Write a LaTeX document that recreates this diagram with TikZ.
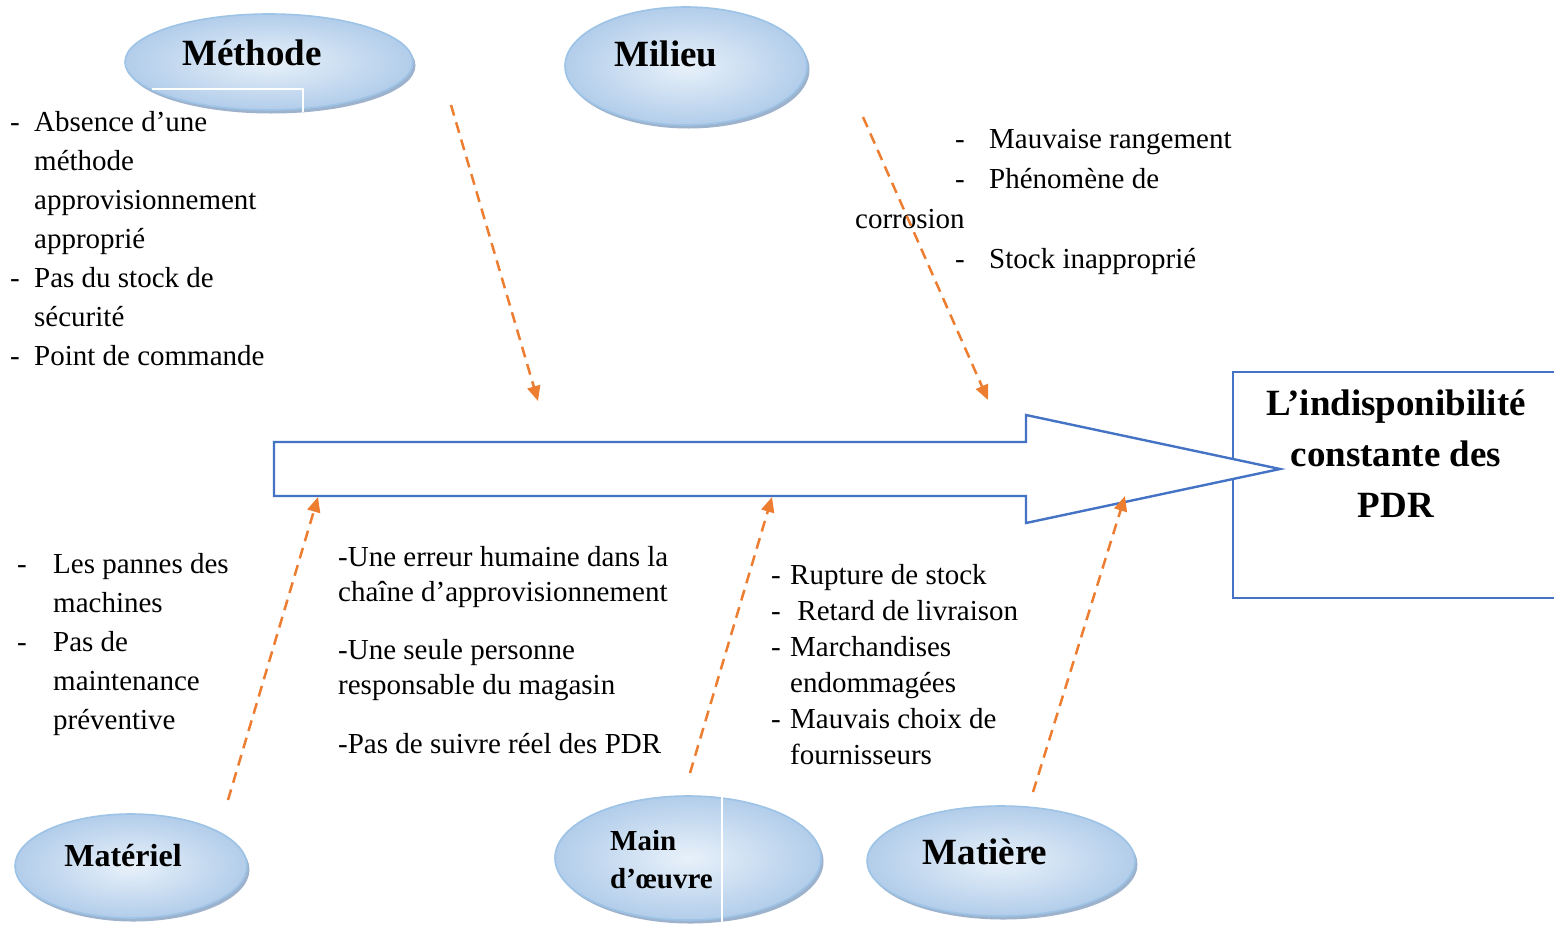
\documentclass[tikz,border=0pt]{standalone}
\usepackage{fontspec}
\setmainfont{Liberation Serif}
\usetikzlibrary{arrows.meta,shapes.geometric,shadows}

\definecolor{spine}{HTML}{4472C4}
\definecolor{cause}{HTML}{ED7D31}
\definecolor{ellrim}{HTML}{9DC3E6}
\definecolor{ellin}{HTML}{E8F1FA}
\definecolor{ellout}{HTML}{B2CDEA}
\definecolor{ellshadow}{HTML}{8CA5C4}

\tikzset{
  cat/.style={ellipse, inner sep=0pt, draw=ellrim, line width=1.6pt,
    inner color=ellin, outer color=ellout,
    drop shadow={shadow xshift=2.5pt, shadow yshift=-3.5pt, fill=ellshadow, opacity=0.85}},
  cattxt/.style={font=\fontsize{37}{44}\selectfont\bfseries, inner sep=0pt, anchor=base},
  body/.style={inner sep=0pt, anchor=base west},
  causearrow/.style={draw=cause, line width=2.5pt, dash pattern=on 11pt off 7pt,
    -{Triangle[length=15pt,width=13pt]}},
  glitch/.style={draw=white, line width=1.6pt},
}

\begin{document}
\begin{tikzpicture}[x=1pt,y=-1pt]
  \useasboundingbox (0,0) rectangle (1554,924);
  \clip (0,0) rectangle (1554,924);
  \fill[white] (0,0) rectangle (1554,924);

  % effect box (runs off the right edge)
  \node[draw=spine, line width=2.4pt, anchor=north west, inner sep=0pt,
        minimum width=340pt, minimum height=226pt] (effectbox) at (1232,371) {};

  % spine: a hollow block arrow pointing into the effect box
  \coordinate (sp1) at (274,442);
  \coordinate (sp2) at (1026,442);
  \coordinate (sp3) at (1026,415);
  \coordinate (tip) at (1280,469);
  \coordinate (sp5) at (1026,523);
  \coordinate (sp6) at (1026,496);
  \coordinate (sp7) at (274,496);
  \draw[spine, line width=2.4pt, fill=white, line join=miter]
    (sp1) -- (sp2) -- (sp3) -- (tip) -- (sp5) -- (sp6) -- (sp7) -- cycle;

  % effect
  \node[font=\fontsize{37}{51}\selectfont\bfseries, inner sep=0pt, anchor=base] (effect) at (1396,415)
    {\begin{tabular}[t]{@{}c@{}}L’indisponibilité\\constante des\\PDR\end{tabular}};

  % category ellipses
  \node[cat, minimum width=288pt, minimum height=96pt]  (methode)  at (269,62)  {};
  \node[cat, minimum width=242pt, minimum height=118pt] (milieu)   at (686,66)  {};
  \node[cat, minimum width=232pt, minimum height=104pt] (materiel) at (131,866) {};
  \node[cat, minimum width=266pt, minimum height=124pt] (main)     at (688,858) {};
  \node[cat, minimum width=268pt, minimum height=110pt] (matiere)  at (1001,861) {};

  \draw[glitch] (152,89) -- (303,89) -- (303,112);
  \draw[glitch] (722,795) -- (722,924);

  % category titles
  \node[cattxt] (tmethode) at (252,65) {Méthode};
  \node[cattxt] (tmilieu)  at (666,66) {Milieu};
  \node[cattxt, font=\fontsize{32}{38}\selectfont\bfseries] (tmateriel) at (123,866) {Matériel};
  \node[cattxt] (tmatiere) at (985,864) {Matière};
  \node[cattxt, font=\fontsize{29}{38}\selectfont\bfseries, anchor=base west] (tmain) at (610,850)
    {\begin{tabular}[t]{@{}l@{}}Main\\d’œuvre\end{tabular}};

  % cause lists
  \node[body, font=\fontsize{29}{39}\selectfont] (lmethode) at (10,131)
    {\begin{tabular}[t]{@{}p{24pt}@{}l@{}}
      -&Absence d’une\\
       &méthode\\
       &approvisionnement\\
       &approprié\\
      -&Pas du stock de\\
       &sécurité\\
      -&Point de commande
    \end{tabular}};

  \node[body, font=\fontsize{29}{40}\selectfont] (lmilieu) at (855,148)
    {\begin{tabular}[t]{@{}p{100pt}@{}p{34pt}@{}l@{}}
       &-&Mauvaise rangement\\
       &-&Phénomène de\\
      \multicolumn{3}{@{}l@{}}{corrosion}\\
       &-&Stock inapproprié
    \end{tabular}};

  \node[body, font=\fontsize{29}{39}\selectfont] (lmateriel) at (17,573)
    {\begin{tabular}[t]{@{}p{36pt}@{}l@{}}
      -&Les pannes des\\
       &machines\\
      -&Pas de\\
       &maintenance\\
       &préventive
    \end{tabular}};

  \node[body, font=\fontsize{29}{35}\selectfont] (lmain) at (338,566)
    {\begin{tabular}[t]{@{}l@{}}
      -Une erreur humaine dans la\\
      chaîne d’approvisionnement\\[23pt]
      -Une seule personne\\
      responsable du magasin\\[24pt]
      -Pas de suivre réel des PDR
    \end{tabular}};

  \node[body, font=\fontsize{29}{36}\selectfont] (lmatiere) at (771,584)
    {\begin{tabular}[t]{@{}p{19pt}@{}l@{}}
      -&Rupture de stock\\
      -&\ Retard de livraison\\
      -&Marchandises\\
       &endommagées\\
      -&Mauvais choix de\\
       &fournisseurs
    \end{tabular}};

  % cause arrows towards the spine
  \coordinate (a1s) at (451,105);  \coordinate (a1t) at (538,401);
  \coordinate (a2s) at (863,117);  \coordinate (a2t) at (988,400);
  \coordinate (a3s) at (228,800);  \coordinate (a3t) at (318,497);
  \coordinate (a4s) at (690,773);  \coordinate (a4t) at (772,497);
  \coordinate (a5s) at (1033,792); \coordinate (a5t) at (1125,496);
  \draw[causearrow] (a1s) -- (a1t);
  \draw[causearrow] (a2s) -- (a2t);
  \draw[causearrow] (a3s) -- (a3t);
  \draw[causearrow] (a4s) -- (a4t);
  \draw[causearrow] (a5s) -- (a5t);
\end{tikzpicture}
\end{document}
